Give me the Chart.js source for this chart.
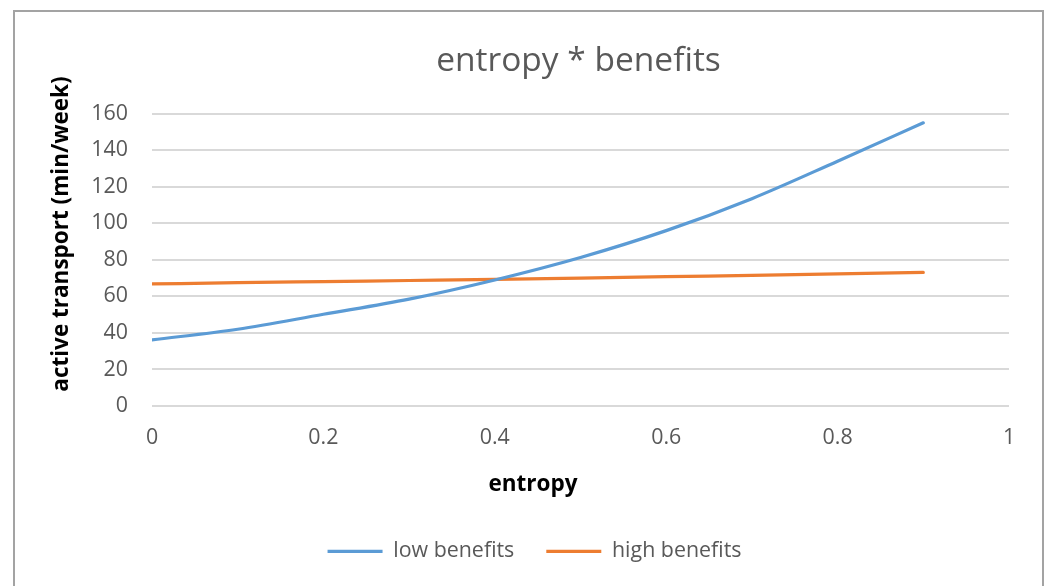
<!DOCTYPE html>
<html>
<head>
<meta charset="utf-8">
<title>entropy * benefits</title>
<script src="https://cdn.jsdelivr.net/npm/chart.js@4"></script>
<style>
  html, body { margin: 0; padding: 0; background: #ffffff; overflow: hidden; }
  #wrap { position: relative; width: 1051px; height: 586px; }
  #frame { position: absolute; left: 13px; top: 10px; width: 1031px; height: 600px;
           border: 2px solid #a3a3a3; box-sizing: border-box; pointer-events: none; }
  canvas { position: absolute; left: 0; top: 0; }
</style>
</head>
<body>
<div id="wrap">
  <canvas id="chart" width="1051" height="586"></canvas>
  <div id="frame"></div>
</div>
<script>
// entropy values along the x axis
const entropy = [0, 0.1, 0.2, 0.3, 0.4, 0.5, 0.6, 0.7, 0.8, 0.9];
// predicted active transport (min/week)
const lowBenefits  = [36.2, 42.0, 50.2, 58.5, 69.0, 81.3, 96.0, 113.5, 134.0, 155.0];
const highBenefits = [66.8, 67.5, 68.1, 68.7, 69.3, 70.0, 70.8, 71.5, 72.3, 73.1];
// axis ticks
const xTicks = [0, 0.2, 0.4, 0.6, 0.8, 1];
const yTicks = [0, 20, 40, 60, 80, 100, 120, 140, 160];

const seriesNames = ['low benefits', 'high benefits'];
const chartTitle = 'entropy * benefits';
const xTitle = 'entropy';
const yTitle = 'active transport (min/week)';

const FONT = "'Open Sans', 'Noto Sans', sans-serif";
const GREY = '#595959';

function points(xs, ys) { return xs.map((x, i) => ({ x: x, y: ys[i] })); }

// chart title and axis titles, placed like the spreadsheet layout
const titlesPlugin = {
  id: 'titles',
  afterDraw(chart) {
    const ctx = chart.ctx;
    const area = chart.chartArea;
    ctx.save();
    ctx.textAlign = 'center';
    ctx.textBaseline = 'middle';
    ctx.fillStyle = GREY;
    ctx.font = '33.5px ' + FONT;
    ctx.fillText(chartTitle, (area.left + area.right) / 2 - 2, 61);

    ctx.fillStyle = '#000000';
    ctx.font = 'bold 22.5px ' + FONT;
    ctx.fillText(xTitle, 533, 485);

    ctx.translate(62, 234);
    ctx.rotate(-Math.PI / 2);
    ctx.fillText(yTitle, 0, 0);
    ctx.restore();
  }
};

new Chart(document.getElementById('chart'), {
  type: 'line',
  data: {
    datasets: [
      {
        label: seriesNames[0],
        data: points(entropy, lowBenefits),
        borderColor: '#5b9bd5',
        backgroundColor: '#5b9bd5',
        borderWidth: 3.2,
        borderCapStyle: 'round',
        pointRadius: 0,
        cubicInterpolationMode: 'monotone',
        fill: false
      },
      {
        label: seriesNames[1],
        data: points(entropy, highBenefits),
        borderColor: '#ed7d31',
        backgroundColor: '#ed7d31',
        borderWidth: 3.2,
        borderCapStyle: 'round',
        pointRadius: 0,
        cubicInterpolationMode: 'monotone',
        fill: false
      }
    ]
  },
  options: {
    responsive: false,
    animation: false,
    events: [],
    layout: { padding: { left: 60, right: 42, top: 113.7, bottom: 14 } },
    scales: {
      x: {
        type: 'linear',
        min: 0,
        max: 1,
        afterBuildTicks(scale) { scale.ticks = xTicks.map(v => ({ value: v })); },
        afterFit(scale) { scale.height = 102.6; },
        grid: { display: false, drawTicks: false },
        border: { display: false },
        ticks: {
          padding: 19.5,
          color: GREY,
          font: { family: FONT, size: 21.4 },
          callback: v => String(v)
        }
      },
      y: {
        type: 'linear',
        min: 0,
        max: 160,
        afterBuildTicks(scale) { scale.ticks = yTicks.map(v => ({ value: v })); },
        afterFit(scale) { scale.width = 92; },
        grid: { color: '#d9d9d9', lineWidth: 2, drawTicks: false },
        border: { display: false },
        ticks: {
          padding: 24,
          color: GREY,
          font: { family: FONT, size: 21.4 },
          callback: v => String(v)
        }
      }
    },
    plugins: {
      title: { display: false },
      tooltip: { enabled: false },
      legend: {
        display: true,
        position: 'bottom',
        labels: {
          usePointStyle: true,
          pointStyleWidth: 55,
          pointStyle: 'line',
          padding: 32,
          color: GREY,
          font: { family: FONT, size: 21.4 }
        }
      }
    }
  },
  plugins: [titlesPlugin]
});
</script>
</body>
</html>
